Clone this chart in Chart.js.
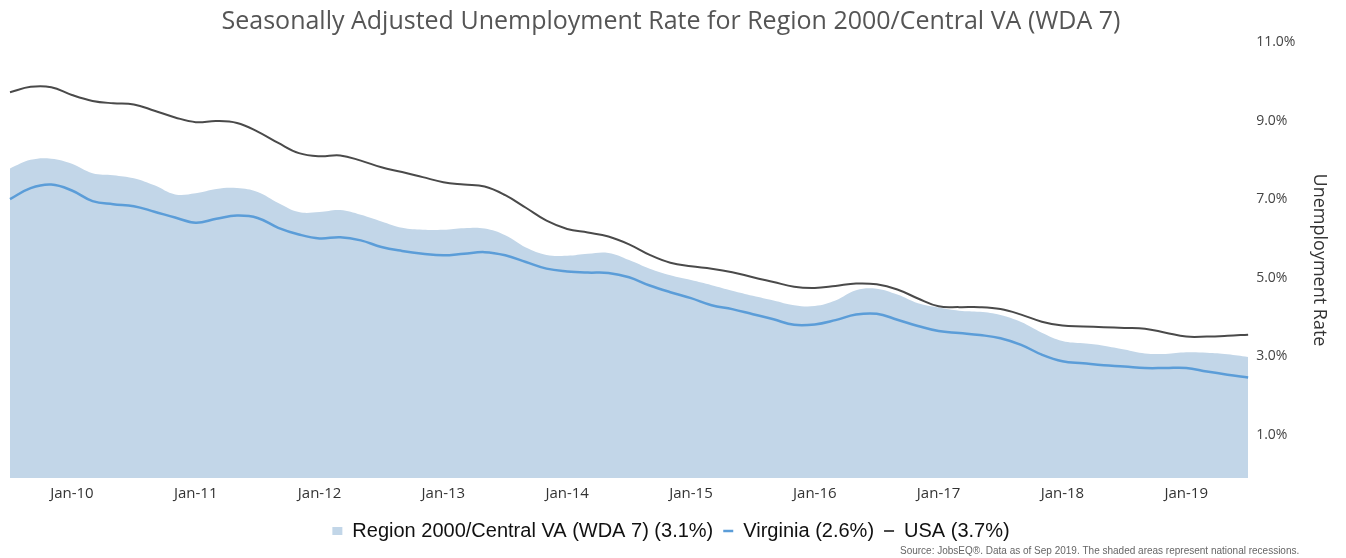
<!DOCTYPE html>
<html>
<head>
<meta charset="utf-8">
<script src="https://cdn.jsdelivr.net/npm/chart.js@4"></script>
<style>
  html, body { margin: 0; padding: 0; background: #fff; }
  #wrap { width: 1346px; height: 558px; }
</style>
</head>
<body>
<div id="wrap"><canvas id="chart"></canvas></div>
<script>
// bi-monthly points, Jul-09 .. Jul-19
const months = [
  "Jul-09", "Sep-09", "Nov-09",
  "Jan-10", "Mar-10", "May-10", "Jul-10", "Sep-10", "Nov-10",
  "Jan-11", "Mar-11", "May-11", "Jul-11", "Sep-11", "Nov-11",
  "Jan-12", "Mar-12", "May-12", "Jul-12", "Sep-12", "Nov-12",
  "Jan-13", "Mar-13", "May-13", "Jul-13", "Sep-13", "Nov-13",
  "Jan-14", "Mar-14", "May-14", "Jul-14", "Sep-14", "Nov-14",
  "Jan-15", "Mar-15", "May-15", "Jul-15", "Sep-15", "Nov-15",
  "Jan-16", "Mar-16", "May-16", "Jul-16", "Sep-16", "Nov-16",
  "Jan-17", "Mar-17", "May-17", "Jul-17", "Sep-17", "Nov-17",
  "Jan-18", "Mar-18", "May-18", "Jul-18", "Sep-18", "Nov-18",
  "Jan-19", "Mar-19", "May-19", "Jul-19"
];

const regionRate = [7.78, 8.0, 8.03, 7.9, 7.66, 7.61, 7.53, 7.35, 7.12, 7.15, 7.26, 7.28, 7.18, 6.9, 6.67, 6.67,
  6.72, 6.6, 6.43, 6.27, 6.22, 6.22, 6.26, 6.25, 6.08, 5.77, 5.58, 5.56, 5.61, 5.63, 5.45, 5.23, 5.06, 4.94,
  4.81, 4.67, 4.54, 4.42, 4.3, 4.28, 4.42, 4.68, 4.72, 4.57, 4.35, 4.24, 4.16, 4.13, 4.05, 3.87, 3.6, 3.39,
  3.33, 3.27, 3.17, 3.07, 3.06, 3.1, 3.09, 3.05, 2.98];

const virginiaRate = [7.0, 7.28, 7.37, 7.22, 6.95, 6.87, 6.82, 6.68, 6.53, 6.4, 6.5, 6.58, 6.52, 6.27, 6.1, 6.0,
  6.03, 5.95, 5.78, 5.68, 5.61, 5.57, 5.61, 5.65, 5.57, 5.4, 5.23, 5.16, 5.13, 5.12, 5.01, 4.8, 4.63, 4.48,
  4.3, 4.2, 4.07, 3.94, 3.8, 3.81, 3.92, 4.06, 4.08, 3.93, 3.77, 3.64, 3.59, 3.54, 3.46, 3.29, 3.04, 2.87,
  2.82, 2.77, 2.74, 2.7, 2.7, 2.7, 2.61, 2.53, 2.46];

const usaRate = [9.72, 9.86, 9.85, 9.65, 9.5, 9.44, 9.41, 9.25, 9.08, 8.96, 8.99, 8.94, 8.72, 8.43, 8.17, 8.09,
  8.11, 7.98, 7.81, 7.69, 7.56, 7.43, 7.37, 7.32, 7.1, 6.78, 6.45, 6.24, 6.15, 6.05, 5.85, 5.58, 5.38, 5.29,
  5.23, 5.14, 5.01, 4.89, 4.77, 4.74, 4.79, 4.85, 4.83, 4.7, 4.47, 4.27, 4.25, 4.25, 4.2, 4.06, 3.88, 3.78,
  3.76, 3.74, 3.72, 3.7, 3.6, 3.5, 3.5, 3.52, 3.55];

const yTicks = [1, 3, 5, 7, 9, 11];

const seriesNames = [
  "Region 2000/Central VA (WDA 7) (3.1%)",
  "Virginia (2.6%)",
  "USA (3.7%)"
];

const sourceText = "Source: JobsEQ\u00ae. Data as of Sep 2019. The shaded areas represent national recessions.";

// small footnote at bottom right, runs off the edge like the original
const sourceNote = {
  id: "sourceNote",
  afterDraw(chart) {
    const ctx = chart.ctx;
    ctx.save();
    ctx.font = "10px 'Liberation Sans', Arial, sans-serif";
    ctx.fillStyle = "#666";
    ctx.textBaseline = "middle";
    ctx.textAlign = "left";
    ctx.fillText(sourceText, 900, 551);
    ctx.restore();
  }
};

const ctx = document.getElementById("chart");
new Chart(ctx, {
  type: "line",
  plugins: [sourceNote],
  data: {
    labels: months,
    datasets: [
      {
        label: seriesNames[0],
        data: regionRate,
        fill: "start",
        backgroundColor: "#c2d6e8",
        borderColor: "#c2d6e8",
        borderWidth: 0,
        pointRadius: 0,
        pointStyle: "rect",
        tension: 0.4
      },
      {
        label: seriesNames[1],
        data: virginiaRate,
        fill: false,
        borderColor: "#5b9dd8",
        backgroundColor: "#8fc0ea",
        borderWidth: 2.5,
        pointRadius: 0,
        pointStyle: "line",
        tension: 0.4
      },
      {
        label: seriesNames[2],
        data: usaRate,
        fill: false,
        borderColor: "#4a4a4a",
        backgroundColor: "#4a4a4a",
        borderWidth: 2,
        pointRadius: 0,
        pointStyle: "line",
        tension: 0.4
      }
    ]
  },
  options: {
    responsive: true,
    maintainAspectRatio: false,
    animation: false,
    layout: { padding: { left: 10, right: 14, top: 0, bottom: 7 } },
    plugins: {
      filler: { drawTime: "beforeDatasetsDraw" },
      tooltip: { enabled: false },
      title: {
        display: true,
        text: "Seasonally Adjusted Unemployment Rate for Region 2000/Central VA (WDA 7)",
        color: "#555",
        font: { family: "'Open Sans', sans-serif", size: 25, weight: "normal" },
        padding: { top: 7, bottom: 5 }
      },
      legend: {
        position: "bottom",
        labels: {
          usePointStyle: true,
          pointStyleWidth: 10,
          boxHeight: 8,
          padding: 10,
          color: "#111",
          font: { family: "'Liberation Sans', Arial, sans-serif", size: 20 }
        }
      }
    },
    scales: {
      x: {
        grid: { display: false, drawTicks: false },
        border: { display: false },
        ticks: {
          autoSkip: false,
          maxRotation: 0,
          padding: 7,
          color: "#333",
          font: { family: "'Open Sans', sans-serif", size: 15 },
          callback: function (value) {
            const lab = this.getLabelForValue(value);
            return lab.startsWith("Jan") ? lab : "";
          }
        },
        afterFit: (scale) => { scale.height = 33; }
      },
      y: {
        position: "right",
        min: -0.1,
        max: 11,
        grid: { display: false, drawTicks: false },
        border: { display: false },
        afterBuildTicks: (scale) => {
          scale.ticks = yTicks.map((v) => ({ value: v }));
        },
        ticks: {
          padding: 8,
          color: "#444",
          font: { family: "'Open Sans', sans-serif", size: 14 },
          callback: (v) => v.toFixed(1) + "%"
        },
        title: {
          display: true,
          text: "Unemployment Rate",
          color: "#333",
          font: { family: "'Open Sans', sans-serif", size: 18 },
          padding: { top: 2, bottom: 5 }
        }
      }
    }
  }
});
</script>
</body>
</html>
